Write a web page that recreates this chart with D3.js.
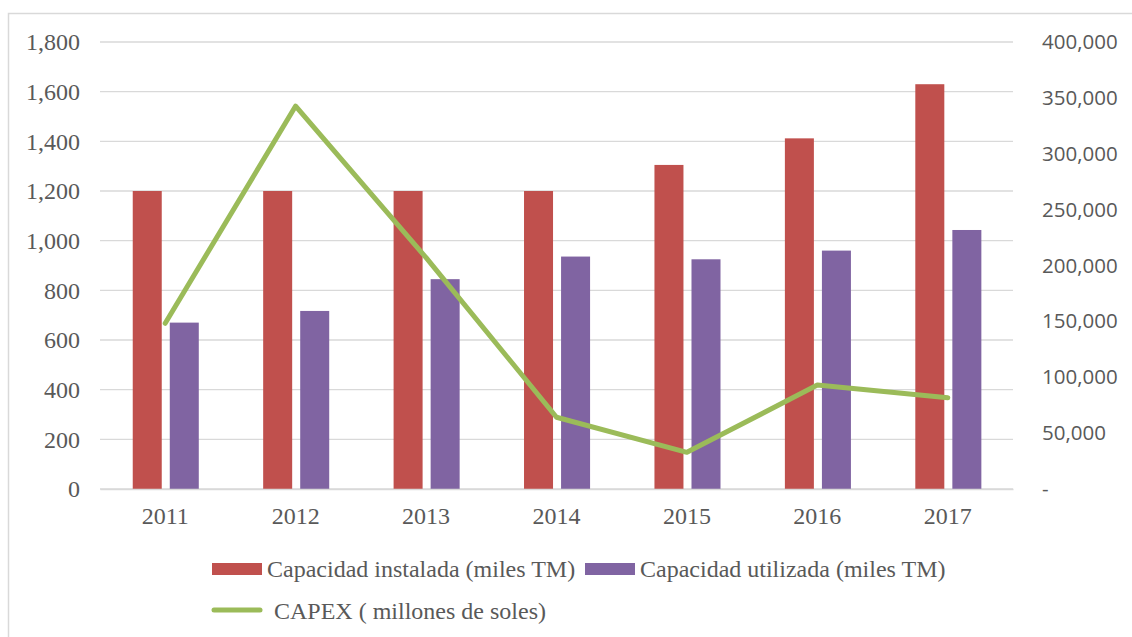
<!DOCTYPE html>
<html>
<head>
<meta charset="utf-8">
<script src="https://cdn.jsdelivr.net/npm/d3@7"></script>
<style>
  html, body { margin: 0; padding: 0; background: #fff; }
  svg { display: block; }
</style>
</head>
<body>
<svg id="chart" width="1132" height="637"></svg>
<script>
const years = ["2011", "2012", "2013", "2014", "2015", "2016", "2017"];
const capInstalada = [1200, 1200, 1200, 1200, 1305, 1412, 1630];
const capUtilizada = [670, 717, 845, 936, 925, 960, 1043];
const capex = [148300, 342700, 207000, 64200, 32800, 93000, 81700];
const leftTicks = [0, 200, 400, 600, 800, 1000, 1200, 1400, 1600, 1800];
const rightTicks = [0, 50000, 100000, 150000, 200000, 250000, 300000, 350000, 400000];
const seriesNames = ["Capacidad instalada (miles TM)", "Capacidad utilizada (miles TM)", "CAPEX ( millones de soles)"];
const colors = ["#C0504D", "#8064A2", "#9BBB59"];

const svg = d3.select("#chart");
const serif = "'Liberation Serif', 'Times New Roman', serif";
const sans = "'Open Sans', Lato, sans-serif";
const textColor = "#595959";
const gridColor = "#D9D9D9";

const plot = { left: 100, right: 1013, top: 42, bottom: 489 };

// outer border
svg.append("rect")
  .attr("x", 8.5).attr("y", 13.5)
  .attr("width", 1200).attr("height", 700)
  .attr("fill", "none").attr("stroke", gridColor).attr("stroke-width", 1.5);

const x = d3.scaleBand().domain(years).range([plot.left, plot.right]).paddingInner(0).paddingOuter(0);
const yL = d3.scaleLinear().domain([0, 1800]).range([plot.bottom, plot.top]);
const yR = d3.scaleLinear().domain([0, 400000]).range([plot.bottom, plot.top]);

// gridlines
svg.append("g").selectAll("line").data(leftTicks).join("line")
  .attr("x1", plot.left).attr("x2", plot.right)
  .attr("y1", d => yL(d)).attr("y2", d => yL(d))
  .attr("stroke", gridColor).attr("stroke-width", 1.3);

// left axis
const leftAxis = svg.append("g")
  .attr("transform", `translate(${plot.left},0)`)
  .call(d3.axisLeft(yL).tickValues(leftTicks).tickFormat(d3.format(",")).tickSize(0).tickPadding(20));
leftAxis.select(".domain").remove();
leftAxis.selectAll("text").attr("font-family", serif).attr("font-size", 24).attr("fill", textColor);

// right axis
const rightAxis = svg.append("g")
  .attr("transform", `translate(${plot.right},0)`)
  .call(d3.axisRight(yR).tickValues(rightTicks).tickFormat(d => d === 0 ? "-" : d3.format(",")(d)).tickSize(0).tickPadding(29));
rightAxis.select(".domain").remove();
rightAxis.selectAll("text").attr("font-family", sans).attr("font-size", 20.5).attr("fill", textColor);

// bars
const bw = x.bandwidth();
const barW = bw * 0.2224;
const g = svg.append("g");
g.selectAll("rect.inst").data(years).join("rect").attr("class", "inst")
  .attr("x", (d) => x(d) + bw / 2 - bw * 0.249)
  .attr("y", (d, i) => yL(capInstalada[i]))
  .attr("width", barW)
  .attr("height", (d, i) => yL(0) - yL(capInstalada[i]))
  .attr("fill", colors[0]);
g.selectAll("rect.util").data(years).join("rect").attr("class", "util")
  .attr("x", (d) => x(d) + bw / 2 + bw * 0.035)
  .attr("y", (d, i) => yL(capUtilizada[i]))
  .attr("width", barW)
  .attr("height", (d, i) => yL(0) - yL(capUtilizada[i]))
  .attr("fill", colors[1]);

// x axis
const xAxis = svg.append("g")
  .attr("transform", `translate(0,${plot.bottom})`)
  .call(d3.axisBottom(x).tickSize(0).tickPadding(18));
xAxis.select(".domain").attr("stroke", gridColor).attr("stroke-width", 1.3);
xAxis.selectAll("text").attr("font-family", serif).attr("font-size", 24).attr("fill", textColor);

// CAPEX line
const line = d3.line().x((d, i) => x(years[i]) + bw / 2).y(d => yR(d));
svg.append("path").datum(capex)
  .attr("d", line)
  .attr("fill", "none").attr("stroke", colors[2]).attr("stroke-width", 5)
  .attr("stroke-linejoin", "round").attr("stroke-linecap", "round");

// legend
const leg = svg.append("g").attr("font-family", serif).attr("font-size", 24).attr("fill", textColor);
leg.append("rect").attr("x", 212).attr("y", 563).attr("width", 50).attr("height", 12).attr("fill", colors[0]);
leg.append("text").attr("x", 267).attr("y", 577).text(seriesNames[0]);
leg.append("rect").attr("x", 585).attr("y", 563).attr("width", 50).attr("height", 12).attr("fill", colors[1]);
leg.append("text").attr("x", 640).attr("y", 577).text(seriesNames[1]);
leg.append("line").attr("x1", 214).attr("x2", 260).attr("y1", 610).attr("y2", 610)
  .attr("stroke", colors[2]).attr("stroke-width", 5).attr("stroke-linecap", "round");
leg.append("text").attr("x", 274).attr("y", 619).text(seriesNames[2]);
</script>
</body>
</html>
